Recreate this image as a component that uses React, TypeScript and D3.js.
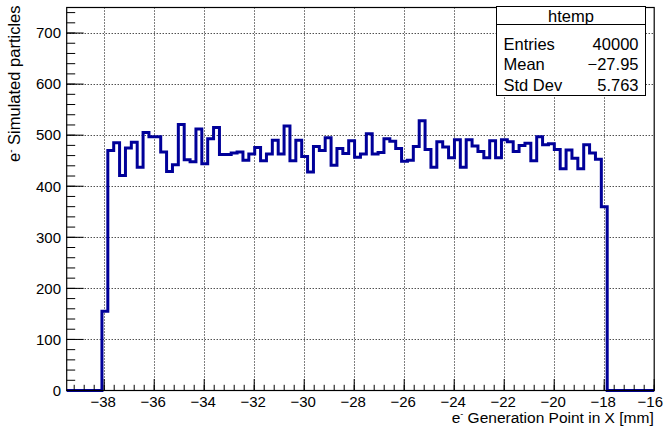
import * as d3 from "d3";
import { useEffect, useRef } from "react";

// histogram binning (100 bins)
const xMin = -39.5;
const xMax = -16;
const yMax = 750;

const binCounts = [
  0, 0, 0, 0, 0, 0,
  155, 470, 485, 421, 475, 486, 437, 505, 497, 497,
  467, 429, 442, 521, 452, 448, 512, 444, 493, 515,
  462, 462, 465, 467, 451, 463, 476, 450, 463, 490,
  463, 518, 450, 490, 458, 428, 478, 470, 495, 441,
  474, 464, 489, 457, 463, 503, 463, 466, 493, 488,
  474, 449, 451, 478, 528, 472, 437, 487, 477, 456,
  491, 437, 491, 479, 468, 456, 489, 456, 491, 487,
  468, 480, 484, 450, 497, 481, 483, 472, 434, 471,
  455, 434, 481, 465, 453, 360,
  0, 0, 0, 0, 0, 0, 0, 0,
];

const xTicks = [-38, -36, -34, -32, -30, -28, -26, -24, -22, -20, -18, -16];
const yTicks = [0, 100, 200, 300, 400, 500, 600, 700];

const statsTitle = "htemp";
const statsLabels = ["Entries", "Mean", "Std Dev"];
const statsValues = ["40000", "\u221227.95", "5.763"];

const xTitle = " Generation Point in X [mm]";
const yTitle = " Simulated particles";

const App: React.FC = () => {
  const ref = useRef<SVGSVGElement | null>(null);

  useEffect(() => {
    if (!ref.current) return;
    const svg = d3.select(ref.current);
    svg.selectAll("*").remove();

    const width = 665;
    const height = 427;
    const frame = { left: 66.7, right: 654.2, top: 7.5, bottom: 390.5 };
    const font = "'Liberation Sans', Arial, Helvetica, sans-serif";

    svg.attr("width", width).attr("height", height);

    const x = d3.scaleLinear().domain([xMin, xMax]).range([frame.left, frame.right]);
    const y = d3.scaleLinear().domain([0, yMax]).range([frame.bottom, frame.top]);

    svg.append("rect").attr("width", width).attr("height", height).attr("fill", "white");

    // grid
    const grid = svg.append("g").attr("stroke", "#000").attr("stroke-width", 1)
      .attr("stroke-dasharray", "1,2");
    grid.selectAll("line.gx")
      .data(xTicks.filter((t) => t < xMax))
      .join("line")
      .attr("x1", (d) => Math.round(x(d)) + 0.5)
      .attr("x2", (d) => Math.round(x(d)) + 0.5)
      .attr("y1", frame.top)
      .attr("y2", frame.bottom);
    grid.selectAll("line.gy")
      .data(yTicks.filter((t) => t > 0))
      .join("line")
      .attr("x1", frame.left)
      .attr("x2", frame.right)
      .attr("y1", (d) => Math.round(y(d)) + 0.5)
      .attr("y2", (d) => Math.round(y(d)) + 0.5);

    // histogram outline
    const binWidth = (xMax - xMin) / binCounts.length;
    const pts: [number, number][] = binCounts.map((c, i) => [xMin + i * binWidth, c]);
    pts.push([xMax, binCounts[binCounts.length - 1]]);
    const line = d3
      .line<[number, number]>()
      .x((d) => x(d[0]))
      .y((d) => y(d[1]))
      .curve(d3.curveStepAfter);
    svg.append("path")
      .datum(pts)
      .attr("fill", "none")
      .attr("stroke", "#000099")
      .attr("stroke-width", 3)
      .attr("d", line);

    // frame
    svg.append("rect")
      .attr("x", frame.left)
      .attr("y", frame.top)
      .attr("width", frame.right - frame.left)
      .attr("height", frame.bottom - frame.top)
      .attr("fill", "none")
      .attr("stroke", "#000")
      .attr("stroke-width", 1.2);

    // x ticks
    const ax = svg.append("g").attr("stroke", "#000").attr("stroke-width", 1);
    const xMinor = d3.range(-39.2, xMax + 0.01, 0.4);
    ax.selectAll("line.mx")
      .data(xMinor)
      .join("line")
      .attr("x1", (d) => x(d))
      .attr("x2", (d) => x(d))
      .attr("y1", frame.bottom)
      .attr("y2", frame.bottom - 5.7);
    ax.selectAll("line.Mx")
      .data(xTicks)
      .join("line")
      .attr("x1", (d) => x(d))
      .attr("x2", (d) => x(d))
      .attr("y1", frame.bottom)
      .attr("y2", frame.bottom - 11.5);

    // y ticks
    const yMinor = d3.range(0, yMax + 0.01, 20);
    ax.selectAll("line.my")
      .data(yMinor)
      .join("line")
      .attr("x1", frame.left)
      .attr("x2", frame.left + 8.5)
      .attr("y1", (d) => y(d))
      .attr("y2", (d) => y(d));
    ax.selectAll("line.My")
      .data(yTicks)
      .join("line")
      .attr("x1", frame.left)
      .attr("x2", frame.left + 17)
      .attr("y1", (d) => y(d))
      .attr("y2", (d) => y(d));

    const fmt = d3.format("d");
    svg.append("g")
      .selectAll("text")
      .data(xTicks)
      .join("text")
      .attr("x", (d) => (d === xMax ? width - 2 : x(d) - 1))
      .attr("y", 407)
      .attr("text-anchor", (d) => (d === xMax ? "end" : "middle"))
      .attr("font-family", font)
      .attr("font-size", 15)
      .text((d) => fmt(d));
    svg.append("g")
      .selectAll("text")
      .data(yTicks)
      .join("text")
      .attr("x", 61)
      .attr("y", (d) => y(d) + 5.3)
      .attr("text-anchor", "end")
      .attr("font-family", font)
      .attr("font-size", 15)
      .text((d) => fmt(d));

    // axis titles
    const xt = svg.append("text")
      .attr("x", frame.right - 0.5)
      .attr("y", 422.5)
      .attr("text-anchor", "end")
      .attr("font-family", font)
      .attr("font-size", 15.5);
    xt.append("tspan").text("e");
    xt.append("tspan").attr("dy", -6).attr("font-size", 9).text("-");
    xt.append("tspan").attr("dy", 6).text(xTitle);

    const yt = svg.append("text")
      .attr("transform", `translate(19.5,${frame.top - 2}) rotate(-90)`)
      .attr("text-anchor", "end")
      .attr("font-family", font)
      .attr("font-size", 16.5);
    yt.append("tspan").text("e");
    yt.append("tspan").attr("dy", -6).attr("font-size", 10).text("-");
    yt.append("tspan").attr("dy", 6).text(yTitle);

    // stats box
    const box = { left: 496.5, right: 645.5, top: 6.5, bottom: 95.5, sep: 24.5 };
    const sb = svg.append("g").attr("font-family", font);
    sb.append("rect")
      .attr("x", box.left)
      .attr("y", box.top)
      .attr("width", box.right - box.left)
      .attr("height", box.bottom - box.top)
      .attr("fill", "white")
      .attr("stroke", "#000")
      .attr("stroke-width", 1);
    sb.append("line")
      .attr("x1", box.left)
      .attr("x2", box.right)
      .attr("y1", box.sep)
      .attr("y2", box.sep)
      .attr("stroke", "#000");
    sb.append("text")
      .attr("x", (box.left + box.right) / 2)
      .attr("y", 21.5)
      .attr("text-anchor", "middle")
      .attr("font-size", 16.5)
      .text(statsTitle);
    const rowY = [49.5, 70, 90.5];
    statsLabels.forEach((lab, i) => {
      sb.append("text")
        .attr("x", 503.5)
        .attr("y", rowY[i])
        .attr("font-size", 16.5)
        .text(lab);
      sb.append("text")
        .attr("x", 638.5)
        .attr("y", rowY[i])
        .attr("text-anchor", "end")
        .attr("font-size", 16.5)
        .text(statsValues[i]);
    });
  }, []);

  return <svg ref={ref} style={{ position: "absolute", left: 0, top: 0 }}></svg>;
};

export default App;
